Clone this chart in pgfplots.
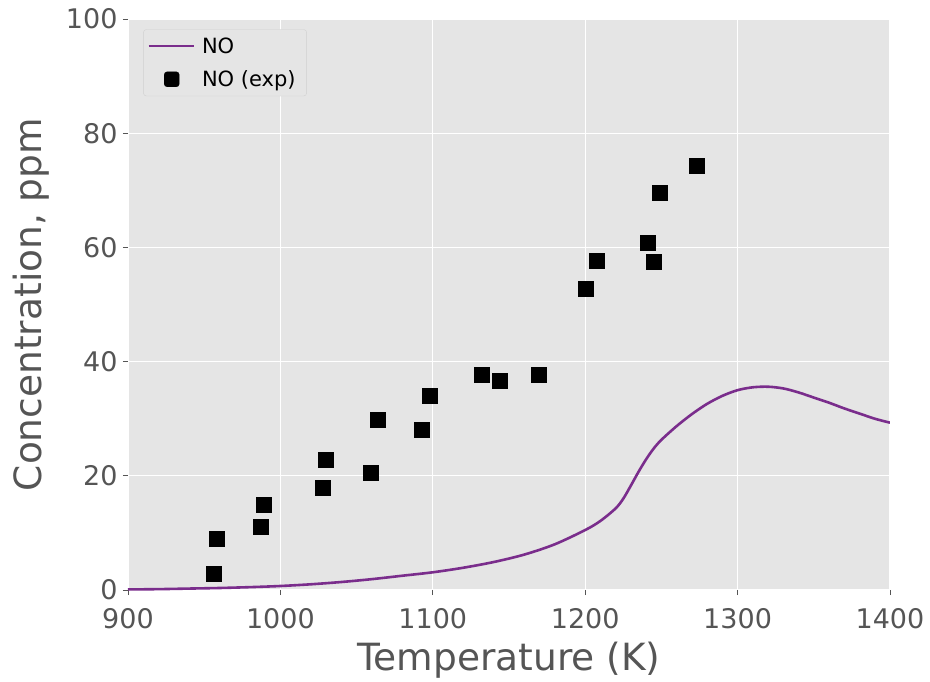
\documentclass[border=0pt]{standalone}
\usepackage{fontspec}
\setmainfont{DejaVu Sans}
\usepackage{pgfplots}
\pgfplotsset{compat=1.18}
\definecolor{bgray}{HTML}{E5E5E5}
\definecolor{tgray}{HTML}{555555}
\definecolor{nopurple}{RGB}{122,45,140}
\begin{document}
\begin{tikzpicture}
\useasboundingbox (-128pt,-91pt) rectangle (802pt,590pt);
\begin{axis}[
  scale only axis,
  width=762pt, height=571pt,
  xmin=900, xmax=1400, ymin=0, ymax=100,
  xtick={900,1000,...,1400}, ytick={0,20,...,100},
  /pgf/number format/assume math mode=true,
  /pgf/number format/1000 sep={},
  axis background/.style={fill=bgray},
  axis line style={draw=none},
  grid=major, major grid style={white, line width=1.3pt},
  tick align=outside, tick pos=left,
  major tick length=5pt,
  tick style={tgray, line width=0.8pt},
  ticklabel style={font=\fontsize{27}{30}\selectfont, text=tgray},
  xticklabel style={yshift=-10pt},
  yticklabel style={xshift=-2pt},
  xlabel={Temperature (K)}, ylabel={Concentration, ppm},
  label style={font=\fontsize{37.5}{42}\selectfont, text=tgray},
  xlabel style={yshift=-6pt},
  ylabel style={yshift=10pt},
  legend style={at={(0.02,0.982)}, anchor=north west, fill=bgray, draw=black!18, rounded corners=3pt,
    font=\fontsize{21}{24}\selectfont, row sep=12pt, inner xsep=4pt, inner ysep=6pt,
    nodes={inner xsep=7pt, font=\fontsize{21}{24}\selectfont}},
  legend cell align=left,
]
\addplot[nopurple, line width=2.6pt, smooth, tension=0.5,
  legend image code/.code={\draw[nopurple, line width=2.6pt] (0pt,0pt) -- (45pt,0pt);}] coordinates {
(900,0.1) (920,0.15) (940,0.25) (960,0.35) (980,0.5) (1000,0.7) (1020,1.0) (1040,1.4)
(1060,1.9) (1080,2.5) (1100,3.1) (1120,3.9) (1140,4.9) (1160,6.2) (1180,8.0) (1200,10.5)
(1210,12.1) (1220,14.3) (1225,16.0) (1230,18.3) (1235,20.7) (1240,22.9) (1245,24.8) (1250,26.3)
(1260,28.7) (1270,30.8) (1280,32.6) (1290,34.0) (1300,35.0) (1310,35.5) (1320,35.6) (1330,35.3)
(1340,34.6) (1350,33.7) (1360,32.8) (1370,31.8) (1380,30.9) (1390,30.0) (1400,29.3)
};
\addlegendentry{NO}
\addplot[only marks, mark=square*, mark size=7.5pt, black, mark options={line width=0.5pt},
  legend image code/.code={\fill[black] (23pt,0pt) ++(-7.5pt,-7.5pt) rectangle ++(15pt,15pt);}] coordinates {
(956.4,2.8) (958.4,8.9) (989.2,14.9) (987.3,11.0) (1028,17.9) (1030,22.8) (1059.4,20.5)
(1064,29.8) (1092.9,28.0) (1098,34.0) (1132.3,37.7) (1144,36.6) (1169.7,37.7) (1200.5,52.7)
(1207.7,57.6) (1241.2,60.8) (1245,57.4) (1249,69.5) (1273.4,74.3)
};
\addlegendentry{NO (exp)}
\end{axis}
\end{tikzpicture}
\end{document}
